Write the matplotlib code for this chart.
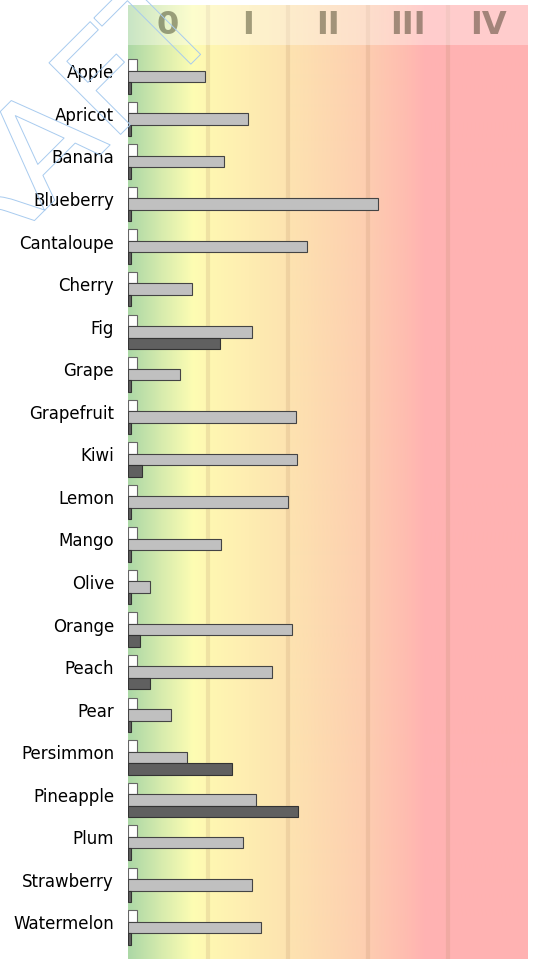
import numpy as np
import matplotlib
matplotlib.use("Agg")
import matplotlib.pyplot as plt
from matplotlib.colors import LinearSegmentedColormap
import matplotlib.patheffects as pe

categories = ["Apple", "Apricot", "Banana", "Blueberry", "Cantaloupe", "Cherry", "Fig",
              "Grape", "Grapefruit", "Kiwi", "Lemon", "Mango", "Olive", "Orange", "Peach",
              "Pear", "Persimmon", "Pineapple", "Plum", "Strawberry", "Watermelon"]
series_white = [0.11] * 21
series_light = [0.96, 1.50, 1.20, 3.13, 2.24, 0.80, 1.55, 0.65, 2.10, 2.11, 2.00,
                1.16, 0.28, 2.05, 1.80, 0.54, 0.74, 1.60, 1.44, 1.55, 1.66]
series_dark = [0.04, 0.04, 0.04, 0.04, 0.04, 0.04, 1.15, 0.04, 0.04, 0.17, 0.04,
               0.04, 0.04, 0.15, 0.28, 0.04, 1.30, 2.12, 0.04, 0.04, 0.04]
zone_labels = ["0", "I", "II", "III", "IV"]

W, H = 536, 959
fig = plt.figure(figsize=(W / 100, H / 100), dpi=100)
ax = fig.add_axes([128 / W, 0, 400 / W, 1 - 5 / H])

xmax = 5.0
ytop, ybot = -1.68, 20.74
ax.set_xlim(0, xmax)
ax.set_ylim(ybot, ytop)

# background gradient
cmap = LinearSegmentedColormap.from_list("bg", [
    (0.0, "#acd8a6"), (0.08, "#d6ebad"), (0.16, "#fdfdb3"), (0.2, "#fff7b2"),
    (0.4, "#fde3b0"), (0.58, "#fdd0b0"), (0.7, "#ffbcb0"), (0.74, "#ffb3b2"),
    (1.0, "#ffb2b2")])
grad = np.linspace(0, 1, 500).reshape(1, -1)
ax.imshow(grad, cmap=cmap, aspect="auto", extent=[0, xmax, ybot, ytop],
          zorder=0, interpolation="bilinear")

# zone separators
for xv in range(1, len(zone_labels)):
    ax.axvline(xv, color="#b08860", alpha=0.18, lw=3, zorder=1)

# header band
hdr_bottom = ytop + 40 / 42.55
ax.axhspan(ytop, hdr_bottom, color="white", alpha=0.35, lw=0, zorder=1.5)
for i, lab in enumerate(zone_labels):
    ax.text(i + 0.5, (ytop + hdr_bottom) / 2, lab, ha="center", va="center",
            fontsize=23, fontweight="bold", color="#1a1a00", alpha=0.4, zorder=2)

y = np.arange(len(categories))
h = 0.27
ax.barh(y - h, series_white, height=h, color="white", edgecolor="#666666",
        lw=0.8, zorder=3)
ax.barh(y, series_light, height=h, color="#c0c0c0", edgecolor="#444444",
        lw=0.8, zorder=3)
ax.barh(y + h, series_dark, height=h, color="#606060", edgecolor="#333333",
        lw=0.8, zorder=3)

ax.set_yticks(y - 0.12)
ax.set_yticklabels(categories, fontsize=12)
ax.tick_params(axis="y", length=0, pad=10)
ax.set_xticks([])
for s in ax.spines.values():
    s.set_visible(False)

# watermark
fig.text(0.07, 0.83, "DRAFT", rotation=45, fontsize=100, color="none",
         ha="center", va="center", zorder=10,
         path_effects=[pe.withStroke(linewidth=0.7, foreground="#a8cbef")])

fig.savefig("out.png", dpi=100)
